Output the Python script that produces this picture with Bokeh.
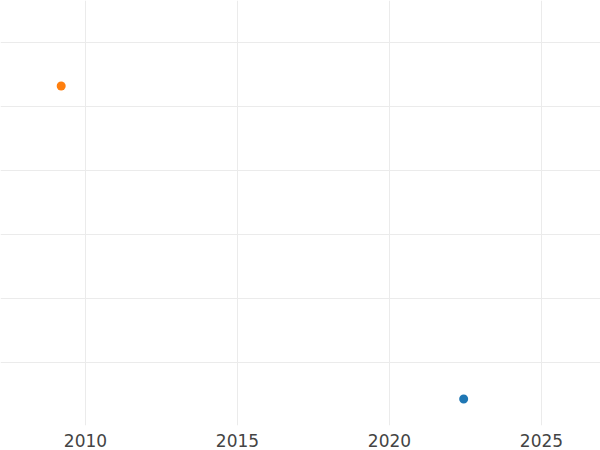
from bokeh.plotting import figure
from bokeh.models import FixedTicker, Range1d, ColumnDataSource
from bokeh.embed import file_html
from bokeh.resources import INLINE

# Data
years = [2009.2, 2022.44]
values = [53.2, 4.3]
colors = ["#ff7f0e", "#1f77b4"]
x_ticks = [2010, 2015, 2020, 2025]
y_grid = [10, 20, 30, 40, 50, 60]

src = ColumnDataSource(dict(x=years, y=values, c=colors))

p = figure(frame_width=600, frame_height=425, output_backend="svg",
           toolbar_location=None,
           x_range=Range1d(2007.204, 2026.941), y_range=Range1d(0.156, 66.5625),
           min_border_left=0, min_border_right=0, min_border_top=0, min_border_bottom=0)
p.scatter("x", "y", source=src, color="c", size=9, line_width=0)

p.outline_line_color = None
p.background_fill_color = "white"
p.border_fill_color = "white"

p.xaxis.ticker = FixedTicker(ticks=x_ticks)
p.xaxis.axis_line_color = None
p.xaxis.major_tick_line_color = None
p.xaxis.minor_tick_line_color = None
p.xaxis.major_tick_out = 0
p.xaxis.major_tick_in = 0
p.xaxis.major_label_standoff = 8
p.xaxis.major_label_text_font = "DejaVu Sans"
p.xaxis.major_label_text_font_size = "17px"
p.xaxis.major_label_text_color = "#444444"

p.yaxis.visible = False
p.ygrid.ticker = FixedTicker(ticks=y_grid)
p.xgrid.ticker = FixedTicker(ticks=x_ticks)
p.xgrid.grid_line_color = "#ebebeb"
p.ygrid.grid_line_color = "#ebebeb"
p.xgrid.grid_line_width = 1
p.ygrid.grid_line_width = 1

open("out.html", "w").write(file_html(p, INLINE))
